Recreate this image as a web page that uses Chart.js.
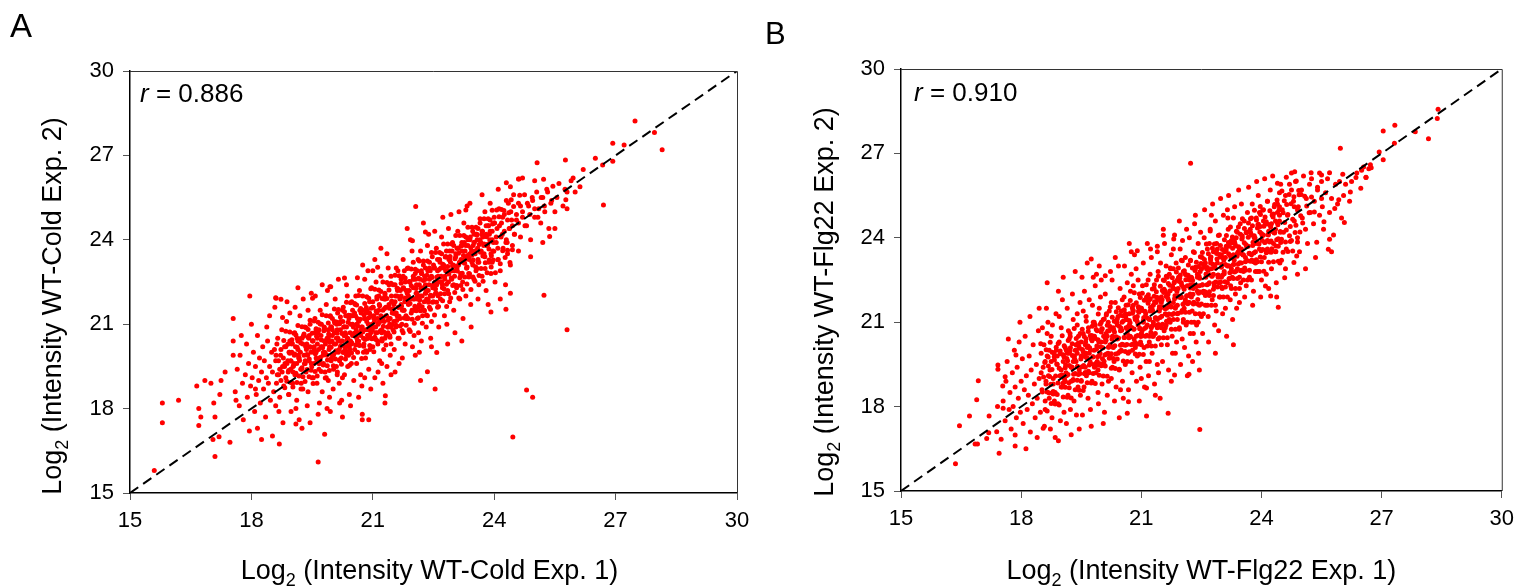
<!DOCTYPE html>
<html>
<head>
<meta charset="utf-8">
<script src="https://cdn.jsdelivr.net/npm/chart.js@4.4.1/dist/chart.umd.min.js"></script>
<style>
html, body { margin: 0; padding: 0; background: #fff; }
#wrap { position: relative; width: 1522px; height: 587px; }
canvas { position: absolute; top: 0; }
</style>
</head>
<body>
<div id="wrap">
  <canvas id="chartA" width="761" height="587" style="left:0"></canvas>
  <canvas id="chartB" width="761" height="587" style="left:761px"></canvas>
</div>
<script>
'use strict';

// axis ticks, shared by both panels
var tickValues = [15, 18, 21, 24, 27, 30];
var identityLine = [15, 30];

// panel A : WT-Cold Exp. 1 (x) vs Exp. 2 (y), outer cloud and outliers
var coldPoints = [
[15.6,15.8],[15.8,18.2],[15.8,17.5],[16.2,18.3],[16.65,18.8],[16.7,18.0],[16.7,17.4],[16.75,17.7],[16.85,19.0],[17.0,18.9],[17.05,16.9],[17.1,16.3],[17.2,17.0],[17.07,18.2],[17.1,17.7],[17.22,18.5],[17.25,19.0],[17.35,19.3],[17.47,16.8],[17.55,19.9],[17.55,20.4],[17.55,21.2],[17.96,22.0],
[17.6,18.6],[17.65,19.4],[17.7,18.1],[17.72,19.9],[17.78,18.9],[17.8,17.6],[17.85,19.2],[17.88,20.3],[17.9,18.4],[17.93,19.6],[17.98,18.8],[18.02,19.1],[18.05,20.0],[18.08,17.9],[18.1,19.5],[18.12,18.5],[18.15,20.6],[18.18,19.0],[18.2,19.8],[18.22,18.2],[18.25,19.3],[18.28,20.2],[18.3,18.7],[18.32,19.7],[18.35,17.7],[18.37,19.1],[18.4,20.4],[18.42,18.9],[18.45,19.5],[18.47,18.3],[18.5,20.0],[17.75,20.6],[18.0,21.0],[18.15,17.3],[18.38,20.9],[18.45,21.3],[17.95,17.2],[18.25,16.9],[17.62,18.3],[18.1,18.7],
[18.52,19.3],[18.55,18.6],[18.57,20.1],[18.6,19.7],[18.62,18.9],[18.65,20.5],[18.67,19.2],[18.7,18.4],[18.72,19.9],[18.75,20.8],[18.77,19.5],[18.8,18.8],[18.82,20.2],[18.85,19.1],[18.87,21.1],[18.9,19.7],[18.92,18.5],[18.95,20.4],[18.97,19.4],[19.0,20.0],[19.02,18.9],[19.05,19.6],[19.07,20.7],[19.1,19.2],[19.12,18.3],[19.15,20.1],[19.17,19.8],[19.2,21.3],[19.22,19.4],[19.25,20.5],[19.27,18.7],[19.3,19.9],[19.32,20.9],[19.35,19.3],[19.37,20.3],[19.4,18.6],[19.42,19.7],[19.45,21.0],[19.47,20.0],[19.5,19.1],[18.58,21.6],[18.68,17.9],[18.78,17.5],[18.88,21.8],[18.98,17.9],[19.08,21.6],[19.18,17.6],[19.28,21.9],[19.38,18.1],[19.48,22.1],[18.63,20.3],[18.73,19.0],[18.83,19.6],[18.93,20.0],[19.03,19.3],[19.13,20.5],[19.23,18.9],[19.33,19.6],[19.43,20.6],[18.6,18.1],[19.1,18.0],[19.25,17.3],[18.95,21.4],[19.4,21.5],[19.15,22.3],[19.45,17.5],
[19.52,20.4],[19.55,19.6],[19.57,21.2],[19.6,20.0],[19.62,18.9],[19.65,20.7],[19.67,19.4],[19.7,21.5],[19.72,20.2],[19.75,18.6],[19.77,19.9],[19.8,20.9],[19.82,19.3],[19.85,21.7],[19.87,20.5],[19.9,19.0],[19.92,20.1],[19.95,21.3],[19.97,19.7],[20.0,20.6],[20.02,18.7],[20.05,20.3],[20.07,21.9],[20.1,19.5],[20.12,20.8],[20.15,20.0],[20.17,18.9],[20.2,21.1],[20.22,19.8],[20.25,20.4],[20.27,21.6],[20.3,19.2],[20.32,20.7],[20.35,19.9],[20.37,22.0],[20.4,20.3],[20.42,18.5],[20.45,21.0],[20.47,19.6],[20.5,20.6],[19.53,19.1],[19.58,22.0],[19.63,20.5],[19.68,18.2],[19.73,21.0],[19.78,19.6],[19.83,20.3],[19.88,22.2],[19.93,18.4],[19.98,20.9],[20.03,19.4],[20.08,20.0],[20.13,21.4],[20.18,19.7],[20.23,18.3],[20.28,20.9],[20.33,21.3],[20.38,19.5],[20.43,20.1],[20.48,21.8],[19.6,20.8],[19.7,19.8],[19.8,20.4],[19.9,20.8],[20.0,19.9],[20.1,20.5],[20.2,20.2],[20.3,20.6],[20.4,19.9],[20.5,21.3],[19.65,17.8],[19.95,17.9],[20.25,17.7],[20.45,18.1],[19.75,22.4],[20.15,22.6],[20.35,22.4],[19.55,20.2],[19.85,19.1],[20.05,21.1],[20.25,19.1],[20.45,20.4],[19.62,19.7],[19.92,20.6],[20.12,19.2],[20.32,20.1],[20.18,18.2],[19.87,18.0],
[20.52,20.9],[20.55,20.1],[20.57,21.7],[20.6,19.6],[20.62,21.2],[20.65,20.4],[20.67,22.2],[20.7,19.2],[20.72,20.8],[20.75,21.5],[20.77,20.0],[20.8,22.6],[20.82,19.8],[20.85,21.1],[20.87,20.5],[20.9,19.4],[20.92,21.8],[20.95,20.7],[20.97,22.3],[21.0,20.2],[21.02,21.3],[21.05,19.1],[21.07,20.9],[21.1,21.9],[21.12,20.4],[21.15,21.5],[21.17,19.7],[21.2,22.7],[21.22,20.7],[21.25,21.2],[21.27,20.1],[21.3,22.1],[21.32,21.6],[21.35,19.5],[21.37,20.9],[21.4,22.4],[21.42,21.0],[21.45,20.3],[21.47,21.8],[21.5,20.8],[20.53,19.0],[20.58,22.0],[20.63,20.7],[20.68,21.5],[20.73,18.8],[20.78,20.3],[20.83,21.4],[20.88,22.9],[20.93,20.1],[20.98,21.0],[21.03,20.5],[21.08,22.5],[21.13,19.3],[21.18,21.1],[21.23,20.4],[21.28,21.9],[21.33,20.6],[21.38,23.0],[21.43,19.9],[21.48,21.4],[20.6,21.0],[20.7,20.6],[20.8,21.2],[20.9,20.8],[21.0,21.6],[21.1,20.7],[21.2,21.3],[21.3,20.5],[21.4,21.2],[21.5,21.5],[20.65,18.4],[20.95,18.7],[21.25,18.9],[21.45,19.2],[20.75,23.1],[21.05,23.3],[21.35,23.5],[20.55,21.4],[20.85,20.0],[21.15,22.0],[21.45,22.7],[20.62,20.3],[20.92,21.4],[21.22,19.6],[21.42,20.6],[21.0,22.9],[20.8,19.1],[21.3,18.2],[20.9,17.6],[21.2,23.7],
[21.52,21.7],[21.55,22.4],[21.57,20.9],[21.6,21.3],[21.62,22.9],[21.65,20.5],[21.67,21.9],[21.7,22.6],[21.72,21.0],[21.75,23.3],[21.77,21.5],[21.8,20.3],[21.82,22.2],[21.85,21.8],[21.87,23.0],[21.9,20.8],[21.92,22.5],[21.95,21.4],[21.97,23.6],[22.0,21.9],[22.02,20.6],[22.05,22.8],[22.07,22.1],[22.1,21.2],[22.12,23.3],[22.15,21.7],[22.17,22.6],[22.2,20.4],[22.22,22.0],[22.25,23.1],[22.27,21.5],[22.3,22.4],[22.32,20.9],[22.35,23.8],[22.37,22.2],[22.4,21.6],[22.42,22.9],[22.45,21.1],[22.47,23.4],[22.5,22.3],[21.53,20.1],[21.58,23.0],[21.63,21.6],[21.68,22.2],[21.73,19.8],[21.78,22.9],[21.83,21.2],[21.88,22.0],[21.93,24.0],[21.98,20.2],[22.03,21.5],[22.08,22.4],[22.13,20.7],[22.18,23.6],[22.23,21.3],[22.28,22.7],[22.33,21.9],[22.38,24.2],[22.43,20.5],[22.48,22.0],[21.6,22.0],[21.7,21.7],[21.8,22.5],[21.9,22.2],[22.0,22.6],[22.1,21.9],[22.2,22.9],[22.3,22.1],[22.4,22.6],[22.5,21.8],[21.65,19.6],[22.05,19.9],[22.45,20.2],[21.85,24.4],[22.25,24.6],[21.75,20.7],[22.15,20.0],[22.35,21.3],[21.55,19.3],[22.0,23.2],
[22.52,23.0],[22.55,22.1],[22.57,23.7],[22.6,21.6],[22.62,22.7],[22.65,23.3],[22.67,21.9],[22.7,24.1],[22.72,22.4],[22.75,23.0],[22.77,21.3],[22.8,22.9],[22.82,23.6],[22.85,22.2],[22.87,24.4],[22.9,21.8],[22.92,23.2],[22.95,22.6],[22.97,23.9],[23.0,21.5],[23.02,22.9],[23.05,23.5],[23.07,22.3],[23.1,24.3],[23.12,23.1],[23.15,21.9],[23.17,22.7],[23.2,23.8],[23.22,22.5],[23.25,24.6],[23.27,23.3],[23.3,22.0],[23.32,23.0],[23.35,24.0],[23.37,22.8],[23.4,23.5],[23.42,21.7],[23.45,23.2],[23.47,24.3],[23.5,22.6],[22.53,24.3],[22.63,20.9],[22.73,24.8],[22.83,21.0],[22.93,24.9],[23.03,20.7],[23.13,25.0],[23.23,21.2],[23.33,25.2],[23.43,20.9],[22.58,22.4],[22.68,23.0],[22.78,22.6],[22.88,23.3],[22.98,22.9],[23.08,23.7],[23.18,23.3],[23.28,23.6],[23.38,23.3],[23.48,23.8],[22.85,20.3],[23.2,20.4],[23.4,25.3],
[23.52,23.6],[23.55,22.9],[23.57,24.2],[23.6,23.3],[23.62,22.4],[23.65,24.6],[23.67,23.9],[23.7,22.7],[23.72,24.1],[23.75,23.5],[23.77,25.0],[23.8,22.2],[23.82,23.8],[23.85,24.5],[23.87,23.2],[23.9,25.3],[23.92,22.8],[23.95,24.0],[23.97,23.6],[24.0,24.8],[24.02,22.5],[24.05,23.9],[24.07,24.4],[24.1,23.3],[24.12,25.1],[24.15,22.9],[24.2,24.2],[24.22,23.7],[24.25,24.9],[24.28,22.4],[24.3,24.0],[24.33,23.5],[24.35,25.3],[24.38,24.4],[24.4,23.1],[24.43,24.7],[24.45,23.8],[24.48,25.6],[24.5,24.2],[23.6,21.9],[23.85,21.7],[24.15,21.9],[24.4,22.1],[23.7,25.6],[24.1,25.8],[23.58,24.0],[23.88,24.2],[24.18,24.6],[24.32,23.9],[23.95,23.2],
[24.55,24.7],[24.6,25.3],[24.65,24.1],[24.7,25.0],[24.75,25.6],[24.8,24.5],[24.85,25.2],[24.9,24.0],[24.95,25.4],[25.0,24.8],[25.05,25.7],[25.1,25.1],[25.15,24.6],[25.2,25.5],[25.25,25.0],[25.3,25.8],[25.35,24.4],[25.4,25.3],[25.45,25.9],[25.5,25.0],[25.55,25.5],[25.6,26.0],[25.7,25.2],[25.8,25.7],[25.9,26.1],[24.6,23.6],[24.9,23.4],[25.2,23.9],[25.0,26.1],[24.7,26.2],[25.5,24.4],[25.75,25.8],
[25.06,26.74],[22.06,25.18],[18.6,21.94],[18.73,21.89],[20.3,22.64],[19.94,22.33],[20.62,22.65],[21.12,23.02],[22.3,24.28],[21.98,23.97],[23.3,25.06],[24.3,26.03],[24.6,26.16],[25.23,22.03],[24.29,21.53],[23.92,21.43],[24.8,18.66],[24.95,18.4],[22.35,19.31],[22.18,19.0],[22.54,18.7],[22.58,19.99],[21.31,18.46],[27.48,28.22],[27.96,27.81],[28.15,27.2],[26.93,27.43],[27.21,27.37],[26.93,26.79],[26.68,26.66],[26.7,25.24],[25.76,26.84],[25.22,26.15],[24.61,26.16],[24.4,25.89],[24.63,25.58],[25.37,24.12],[25.95,26.2],[26.12,25.89],[25.77,25.42],[25.8,25.1],[24.46,16.99],[25.8,20.8],[19.65,16.1],[20.74,17.8],[20.74,17.6],[18.69,16.74],[18.52,17.03],[19.81,17.09],[19.1,17.45],[18.77,21.24],[18.61,21.92],[19.51,21.92],[19.96,22.33],[26.2,26.5],[26.5,26.9],[26.0,25.7]
];

// panel A : dense core along the diagonal
var coldCore = [
[18.61,19.9],[18.64,19.2],[18.67,19.7],[18.7,19.4],[18.73,20.1],[18.76,19.3],[18.79,19.8],[18.82,19.5],[18.85,20.2],[18.88,19.6],[18.91,19.3],[18.94,20.0],[18.97,19.7],[19.0,20.3],[19.03,19.5],[19.06,19.9],[19.09,20.2],[19.12,19.6],[19.15,20.4],[19.18,19.8],[19.21,20.0],[19.24,19.4],[19.27,20.3],[19.3,20.6],[19.33,19.7],[19.36,20.1],[19.39,19.9],[19.42,20.5],[19.45,20.2],[19.48,19.6],[19.51,20.4],[19.54,20.0],[19.57,20.7],[19.6,19.8],[19.63,20.3],[19.66,20.1],[19.69,19.7],[19.72,20.6],[19.75,20.2],[19.78,20.0],[19.81,20.8],[19.84,20.4],[19.87,19.9],[19.9,20.5],[19.93,20.2],[19.96,20.9],[19.99,20.4],[20.02,19.9],[20.05,20.7],[20.08,20.3],[20.11,21.0],[20.14,20.5],[20.17,20.1],[20.2,20.8],[20.23,20.4],[20.26,21.1],[20.29,20.6],[20.32,20.2],[20.35,20.9],[20.38,20.5],[20.41,21.2],[20.44,20.7],[20.47,20.3],[20.5,21.0],[20.53,20.6],[20.56,21.3],[20.59,20.8],[20.62,20.4],[20.65,21.1],[20.68,20.7],[20.71,21.4],[20.74,20.9],[20.77,20.5],[20.8,21.2],[20.83,20.8],[20.86,21.5],[20.89,21.0],[20.92,20.6],[20.95,21.3],[20.98,20.9],[21.01,21.6],[21.04,21.1],[21.07,20.7],[21.1,21.4],[21.13,21.0],[21.16,21.7],[21.19,21.2],[21.22,20.8],[21.25,21.5],[21.28,21.1],[21.31,21.9],[21.34,21.3],[21.37,20.9],[21.4,21.7],[21.43,21.2],[21.46,22.0],[21.49,21.5],[21.52,21.1],[21.55,21.8],[21.58,21.4],[21.61,22.2],[21.64,21.6],[21.67,21.2],[21.7,22.0],[21.73,21.5],[21.76,22.3],[21.79,21.8],[21.82,21.3],[21.85,22.1],[21.88,21.7],[21.91,22.5],[21.94,21.9],[21.97,21.5],[22.0,22.3],[22.03,21.9],[22.06,22.6],[22.09,22.1],[22.12,21.6],[22.15,22.4],[22.18,22.0],[22.21,22.8],[22.24,22.3],[22.27,21.8],[22.3,22.6],[22.33,22.2],[22.36,22.9],[22.39,22.4],[22.42,22.0],[22.45,22.7],[22.48,22.3],[22.51,23.0],[22.54,22.5],[22.57,22.1],[22.6,22.9],[22.63,22.5],[22.66,23.2],[22.69,22.7],[22.72,22.3],[22.75,23.1],[22.78,22.7],[22.81,23.4],[22.84,22.9],[22.87,22.5],[22.9,23.3],[22.93,22.9],[22.96,23.6],[22.99,23.1],[23.02,22.7],[23.05,23.4],[23.08,23.0],[23.11,23.7],[23.14,23.2],[23.17,22.8],[23.2,23.6],[23.23,23.2],[23.26,23.9],[23.29,23.4],[23.32,23.0],[23.35,23.8],[23.38,23.4],[23.41,24.1],[23.44,23.6],[23.47,23.1],[23.5,23.9],[23.53,23.5],[23.56,24.2],[23.59,23.7],[23.62,23.2],[23.65,24.0],[23.68,23.6],[23.71,24.3],[23.74,23.8],[23.77,23.4],[23.8,24.2],[23.83,23.8],[23.86,24.5],[23.89,24.0],[23.92,23.5],[23.95,24.3],[23.98,23.9],[24.01,24.6],[24.05,24.1],[24.09,23.7],[24.13,24.5],[24.17,24.1],[24.21,24.8],[24.25,24.3],[24.29,23.9],[24.33,24.7],[24.37,24.4],[24.41,25.0],[24.45,24.5],[24.5,24.2],[24.55,24.9],[24.6,24.6],[24.65,25.2],[24.7,24.8],[24.76,24.5],[24.82,25.3],[24.88,24.9],[24.94,25.5],[25.0,25.1],[25.08,24.8],[25.16,25.5],[25.24,25.2],[25.32,25.7],[25.42,25.4],
[18.92,19.35],[18.95,19.97],[18.98,19.69],[19.01,20.31],[19.04,19.52],[19.07,19.94],[19.1,19.26],[19.13,20.18],[19.16,19.9],[19.19,19.71],[19.22,20.33],[19.25,19.45],[19.28,20.57],[19.31,19.59],[19.34,20.21],[19.37,19.92],[19.4,20.54],[19.43,19.76],[19.46,20.18],[19.49,19.49],[19.52,20.41],[19.55,20.13],[19.58,19.95],[19.61,20.57],[19.64,19.68],[19.67,20.8],[19.7,19.82],[19.73,20.44],[19.76,20.16],[19.79,20.77],[19.82,19.99],[19.85,20.41],[19.88,19.73],[19.91,20.65],[19.94,20.36],[19.97,20.18],[20.0,20.8],[20.03,19.92],[20.06,21.04],[20.09,20.06],[20.12,20.68],[20.15,20.4],[20.18,21.02],[20.21,20.24],[20.24,20.67],[20.27,19.99],[20.3,20.91],[20.33,20.63],[20.36,20.45],[20.39,21.07],[20.42,20.19],[20.45,21.31],[20.48,20.34],[20.51,20.96],[20.54,20.68],[20.57,21.3],[20.6,20.52],[20.63,20.94],[20.66,20.26],[20.69,21.18],[20.72,20.9],[20.75,20.72],[20.78,21.34],[20.81,20.46],[20.84,21.59],[20.87,20.61],[20.9,21.23],[20.93,20.95],[20.96,21.57],[20.99,20.79],[21.02,21.22],[21.05,20.54],[21.08,21.47],[21.11,21.2],[21.14,21.03],[21.17,21.66],[21.2,20.78],[21.23,21.91],[21.26,20.93],[21.29,21.56],[21.32,21.29],[21.35,21.91],[21.38,21.14],[21.41,21.57],[21.44,20.9],[21.47,21.82],[21.5,21.55],[21.53,21.38],[21.56,22.0],[21.59,21.13],[21.62,22.26],[21.65,21.28],[21.68,21.91],[21.71,21.64],[21.74,22.27],[21.77,21.5],[21.8,21.93],[21.83,21.26],[21.86,22.19],[21.89,21.92],[21.92,21.74],[21.95,22.37],[21.98,21.5],[22.01,22.61],[22.04,21.64],[22.07,22.27],[22.1,22.0],[22.13,22.63],[22.16,21.86],[22.19,22.29],[22.22,21.62],[22.25,22.55],[22.28,22.28],[22.31,22.11],[22.34,22.74],[22.37,21.87],[22.4,23.0],[22.43,22.03],[22.46,22.66],[22.49,22.39],[22.52,23.02],[22.55,22.25],[22.58,22.68],[22.61,22.01],[22.64,22.94],[22.67,22.67],[22.7,22.5],[22.73,23.13],[22.76,22.26],[22.79,23.39],[22.82,22.42],[22.85,23.05],[22.88,22.78],[22.91,23.41],[22.94,22.64],[22.97,23.07],[23.0,22.4],[23.03,23.33],[23.06,23.06],[23.09,22.89],[23.12,23.52],[23.15,22.65],[23.18,23.78],[23.21,22.81],[23.24,23.44],[23.27,23.17],[23.3,23.8],[23.33,23.03],[23.36,23.46],[23.39,22.79],[23.42,23.72],[23.45,23.45],[23.48,23.28],[23.51,23.91],[23.54,23.04],[23.57,24.17],[23.6,23.2],[23.63,23.83],[23.66,23.56],[23.69,24.19],[23.72,23.42],[23.75,23.85],[23.78,23.18],[23.81,24.11],[23.84,23.84],[23.87,23.67],[23.9,24.3],[23.93,23.43],[23.96,24.56],[23.99,23.59]
];

// panel A : middle band round the core
var coldRing = [
[18.8,20.42],[18.825,18.74],[18.85,20.75],[18.875,18.97],[18.9,20.29],[18.925,18.5],[18.95,20.72],[18.975,18.93],[19.0,20.45],[19.025,18.77],[19.05,20.68],[19.075,19.2],[19.1,20.62],[19.125,18.93],[19.15,20.95],[19.175,19.16],[19.2,20.48],[19.225,18.7],[19.25,20.91],[19.275,19.13],[19.3,20.65],[19.325,18.96],[19.35,20.88],[19.375,19.39],[19.4,20.81],[19.425,19.13],[19.45,21.14],[19.475,19.36],[19.5,20.68],[19.525,18.89],[19.55,21.11],[19.575,19.32],[19.6,20.84],[19.625,19.16],[19.65,21.07],[19.675,19.59],[19.7,21.01],[19.725,19.32],[19.75,21.34],[19.775,19.55],[19.8,20.87],[19.825,19.09],[19.85,21.3],[19.875,19.52],[19.9,21.04],[19.925,19.35],[19.95,21.27],[19.975,19.78],[20.0,21.2],[20.025,19.52],[20.05,21.54],[20.075,19.76],[20.1,21.08],[20.125,19.3],[20.15,21.52],[20.175,19.74],[20.2,21.26],[20.225,19.58],[20.25,21.5],[20.275,20.02],[20.3,21.44],[20.325,19.76],[20.35,21.78],[20.375,20.0],[20.4,21.32],[20.425,19.54],[20.45,21.76],[20.475,19.98],[20.5,21.5],[20.525,19.82],[20.55,21.74],[20.575,20.26],[20.6,21.68],[20.625,20.0],[20.65,22.02],[20.675,20.24],[20.7,21.56],[20.725,19.78],[20.75,22.0],[20.775,20.22],[20.8,21.74],[20.825,20.06],[20.85,21.98],[20.875,20.5],[20.9,21.92],[20.925,20.24],[20.95,22.26],[20.975,20.48],[21.0,21.8],[21.025,20.02],[21.05,22.24],[21.075,20.46],[21.1,21.98],[21.125,20.3],[21.15,22.22],[21.175,20.74],[21.2,22.16],[21.225,20.48],[21.25,22.5],[21.275,20.72],[21.3,22.04],[21.325,20.26],[21.35,22.48],[21.375,20.7],[21.4,22.22],[21.425,20.54],[21.45,22.46],[21.475,20.98],[21.5,22.4],[21.525,20.72],[21.55,22.74],[21.575,20.96],[21.6,22.28],[21.625,20.5],[21.65,22.72],[21.675,20.94],[21.7,22.46],[21.725,20.78],[21.75,22.7],[21.775,21.22],[21.8,22.64],[21.825,20.96],[21.85,22.98],[21.875,21.2],[21.9,22.52],[21.925,20.74],[21.95,22.96],[21.975,21.18],[22.0,22.7],[22.025,21.03],[22.05,22.95],[22.075,21.48],[22.1,22.9],[22.125,21.23],[22.15,23.25],[22.175,21.48],[22.2,22.8],[22.225,21.03],[22.25,23.25],[22.275,21.48],[22.3,23.0],[22.325,21.33],[22.35,23.25],[22.375,21.78],[22.4,23.2],[22.425,21.53],[22.45,23.55],[22.475,21.78],[22.5,23.1],[22.525,21.33],[22.55,23.55],[22.575,21.78],[22.6,23.3],[22.625,21.63],[22.65,23.55],[22.675,22.08],[22.7,23.5],[22.725,21.83],[22.75,23.85],[22.775,22.08],[22.8,23.4],[22.825,21.63],[22.85,23.85],[22.875,22.08],[22.9,23.6],[22.925,21.93],[22.95,23.85],[22.975,22.38],[23.0,23.8],[23.025,22.13],[23.05,24.15],[23.075,22.38],[23.1,23.7],[23.125,21.93],[23.15,24.15],[23.175,22.38],[23.2,23.9],[23.225,22.23],[23.25,24.15],[23.275,22.68],[23.3,24.1],[23.325,22.43],[23.35,24.45],[23.375,22.68],[23.4,24.0],[23.425,22.23],[23.45,24.45],[23.475,22.68],[23.5,24.2],[23.525,22.53],[23.55,24.45],[23.575,22.98],[23.6,24.4],[23.625,22.73],[23.65,24.75],[23.675,22.98],[23.7,24.3],[23.725,22.53],[23.75,24.75],[23.775,22.98],[23.8,24.5],[23.825,22.83],[23.85,24.75],[23.875,23.28],[23.9,24.7],[23.925,23.03],[23.95,25.05],[23.975,23.28],[24.0,24.6],[24.03,22.83],[24.06,25.06],[24.09,23.29],[24.12,24.82],[24.15,23.15],[24.18,25.08],[24.21,23.61],[24.24,25.04],[24.27,23.37],[24.3,25.4],[24.33,23.63],[24.36,24.96],[24.39,23.19],[24.42,25.42],[24.45,23.65],[24.48,25.18]
];

// panel B : WT-Flg22 Exp. 1 (x) vs Exp. 2 (y), outer cloud and outliers
var flgPoints = [
[16.36,15.97],[17.45,16.34],[16.93,18.92],[16.89,18.24],[16.71,17.67],[16.46,17.32],[17.2,17.67],[16.91,16.67],[16.85,16.67],[17.14,16.87],[17.19,17.07],[17.39,17.11],[17.5,16.84],[17.41,18.0],[17.55,17.94],[17.42,19.48],[17.42,19.33],[17.6,19.06],[17.54,18.73],[17.87,19.83],[17.85,16.99],[18.93,16.79],[18.55,17.23],[20.65,17.76],[21.13,17.67],[21.67,17.76],[22.46,17.19],[22.19,19.15],[21.83,19.12],[21.13,18.66],[20.68,18.17],[18.65,20.6],[18.49,20.23],
[17.55,18.2],[17.6,17.5],[17.62,18.9],[17.65,19.6],[17.7,17.9],[17.72,18.5],[17.75,17.2],[17.78,19.2],[17.8,18.0],[17.83,20.0],[17.85,18.7],[17.88,17.6],[17.9,19.4],[17.93,18.3],[17.95,20.3],[17.98,17.8],[18.0,18.9],[18.03,19.7],[18.05,17.4],[18.08,18.6],[18.1,20.5],[18.13,19.1],[18.15,17.9],[18.18,18.4],[18.2,19.8],[18.23,17.1],[18.25,19.3],[18.28,18.1],[18.3,20.2],[18.33,18.8],[18.35,17.6],[18.38,19.5],[18.4,18.3],[18.43,20.7],[18.45,19.0],[18.48,17.8],[18.5,19.9],[17.68,20.4],[17.97,21.0],[18.22,21.2],[18.4,16.9],[17.85,16.6],[18.12,16.5],[18.45,21.5],
[18.52,18.6],[18.55,19.4],[18.57,20.2],[18.6,17.9],[18.62,18.9],[18.65,19.8],[18.67,21.0],[18.7,18.3],[18.72,19.3],[18.75,20.5],[18.77,17.6],[18.8,19.0],[18.82,19.9],[18.85,18.5],[18.87,21.3],[18.9,19.5],[18.92,18.1],[18.95,20.3],[18.97,19.1],[19.0,20.8],[19.02,18.7],[19.05,19.6],[19.07,17.8],[19.1,20.1],[19.12,19.2],[19.15,21.5],[19.17,18.4],[19.2,19.9],[19.22,20.6],[19.25,18.9],[19.27,19.4],[19.3,21.1],[19.32,18.2],[19.35,20.0],[19.37,19.6],[19.4,20.9],[19.42,18.7],[19.45,19.3],[19.47,21.7],[19.5,20.3],[18.53,20.8],[18.58,17.3],[18.63,21.5],[18.68,19.1],[18.73,17.2],[18.78,20.9],[18.83,18.2],[18.88,20.0],[18.93,22.1],[18.98,17.5],[19.03,21.8],[19.08,19.0],[19.13,17.4],[19.18,20.7],[19.23,17.9],[19.28,22.0],[19.33,19.8],[19.38,17.7],[19.43,20.5],[19.48,18.4],[18.6,19.6],[18.7,20.0],[18.8,18.8],[18.9,19.8],[19.0,19.3],[19.1,18.9],[19.2,20.4],[19.3,19.6],[19.4,19.9],[19.5,18.9],[18.65,22.4],[19.05,22.6],[19.35,22.8],[18.85,16.9],[19.25,17.0],[19.45,17.2],[18.95,21.2],[19.15,19.9],[18.75,19.6],[19.4,21.3],
[19.52,19.8],[19.55,20.6],[19.57,18.7],[19.6,19.4],[19.62,21.2],[19.65,20.1],[19.67,18.3],[19.7,21.8],[19.72,19.6],[19.75,20.4],[19.77,18.9],[19.8,21.0],[19.82,20.0],[19.85,22.3],[19.87,19.2],[19.9,20.7],[19.92,18.5],[19.95,21.5],[19.97,19.9],[20.0,20.3],[20.02,18.8],[20.05,21.1],[20.07,19.5],[20.1,22.0],[20.12,20.6],[20.15,18.4],[20.17,19.9],[20.2,21.4],[20.22,20.2],[20.25,19.0],[20.27,22.5],[20.3,20.8],[20.32,19.6],[20.35,21.7],[20.37,18.7],[20.4,20.4],[20.42,21.2],[20.45,19.3],[20.47,22.2],[20.5,20.0],[19.53,17.7],[19.58,22.1],[19.63,19.1],[19.68,20.8],[19.73,17.9],[19.78,21.6],[19.83,19.4],[19.88,22.7],[19.93,18.1],[19.98,21.9],[20.03,19.7],[20.08,17.8],[20.13,21.3],[20.18,18.9],[20.23,22.8],[20.28,19.4],[20.33,18.2],[20.38,21.0],[20.43,23.0],[20.48,18.6],[19.6,20.2],[19.7,19.9],[19.8,20.5],[19.9,19.6],[20.0,21.0],[20.1,20.3],[20.2,20.7],[20.3,20.1],[20.4,20.9],[20.5,21.4],[19.65,23.1],[19.95,23.0],[20.35,23.3],[19.75,17.3],[20.05,17.4],[20.45,17.6],[19.55,21.4],[19.85,20.9],[20.15,20.5],[20.25,21.7],[19.62,19.9],[19.92,19.3],[20.22,19.8],[20.42,19.9],[20.0,22.5],[19.8,22.6],[20.48,20.7],[19.75,23.25],[19.52,22.6],[20.1,22.65],
[20.52,21.0],[20.55,20.2],[20.57,21.9],[20.6,19.5],[20.62,20.8],[20.65,22.4],[20.67,19.9],[20.7,21.3],[20.72,20.5],[20.75,22.7],[20.77,19.2],[20.8,21.6],[20.82,20.4],[20.85,21.1],[20.87,22.9],[20.9,19.8],[20.92,20.9],[20.95,22.0],[20.97,19.4],[21.0,21.5],[21.02,20.7],[21.05,23.1],[21.07,20.1],[21.1,21.8],[21.12,19.6],[21.15,20.9],[21.17,22.5],[21.2,20.3],[21.22,21.4],[21.25,23.3],[21.27,19.9],[21.3,21.0],[21.32,22.2],[21.35,20.6],[21.37,21.7],[21.4,19.5],[21.42,22.8],[21.45,20.9],[21.47,21.5],[21.5,20.2],[20.53,18.9],[20.58,23.0],[20.63,21.1],[20.68,18.6],[20.73,22.1],[20.78,20.0],[20.83,23.4],[20.88,18.9],[20.93,21.4],[20.98,20.3],[21.03,22.3],[21.08,18.7],[21.13,21.9],[21.18,19.1],[21.23,23.6],[21.28,20.5],[21.33,18.8],[21.38,22.5],[21.43,19.2],[21.48,23.1],[20.6,21.3],[20.7,20.9],[20.8,21.4],[20.9,21.2],[21.0,20.6],[21.1,21.2],[21.2,21.8],[21.3,21.6],[21.4,21.1],[21.5,21.9],[20.65,20.6],[20.85,20.1],[21.05,21.0],[21.25,20.8],[21.45,21.4],[20.75,23.5],[21.15,23.8],[21.4,23.7],[20.55,18.3],[20.95,18.2],[21.35,18.4],[20.62,21.6],[20.92,22.5],[21.22,22.7],[21.42,20.4],[21.0,19.0],[20.8,22.3],[21.2,19.6],[21.47,18.3],[20.7,23.8],[20.9,23.54],[21.4,23.5],
[21.52,21.8],[21.55,22.5],[21.57,20.7],[21.6,21.3],[21.62,23.0],[21.65,20.2],[21.67,22.0],[21.7,22.7],[21.72,21.0],[21.75,23.4],[21.77,20.5],[21.8,21.7],[21.82,22.4],[21.85,19.9],[21.87,23.1],[21.9,21.3],[21.92,22.2],[21.95,20.8],[21.97,23.6],[22.0,21.9],[22.02,20.4],[22.05,22.8],[22.07,21.5],[22.1,23.3],[22.12,20.9],[22.15,22.3],[22.17,21.7],[22.2,24.0],[22.22,20.6],[22.25,22.6],[22.27,21.4],[22.3,23.5],[22.32,21.0],[22.35,22.9],[22.37,20.3],[22.4,22.1],[22.42,23.8],[22.45,21.6],[22.47,22.8],[22.5,21.2],[21.53,19.6],[21.58,23.8],[21.63,21.5],[21.68,19.3],[21.73,22.9],[21.78,19.9],[21.83,24.1],[21.88,20.3],[21.93,22.6],[21.98,19.5],[22.03,23.9],[22.08,20.1],[22.13,24.3],[22.18,19.8],[22.23,23.2],[22.28,19.6],[22.33,24.5],[22.38,20.9],[22.43,19.9],[22.48,24.2],[21.6,22.1],[21.7,21.6],[21.8,22.9],[21.9,22.5],[22.0,22.4],[22.1,21.8],[22.2,22.5],[22.3,22.2],[22.4,22.6],[22.5,22.9],[21.65,22.6],[21.85,21.5],[22.05,21.1],[22.25,21.9],[22.45,22.3],[21.55,24.3],[21.95,24.6],[22.35,24.8],[21.75,18.9],[22.15,19.1],[22.45,19.3],[21.62,20.9],[21.92,21.9],[22.22,22.0],[22.42,21.0],[22.0,23.2],[21.8,23.6],[22.3,20.6],[21.55,24.09],[21.81,23.96],
[22.52,23.3],[22.55,22.1],[22.57,24.0],[22.6,21.6],[22.62,22.7],[22.65,23.6],[22.67,21.2],[22.7,22.4],[22.72,24.3],[22.75,22.9],[22.77,21.8],[22.8,23.5],[22.82,22.3],[22.85,24.6],[22.87,21.4],[22.9,23.1],[22.92,22.6],[22.95,24.1],[22.97,21.9],[23.0,23.4],[23.02,22.2],[23.05,24.8],[23.07,22.8],[23.1,21.5],[23.12,23.7],[23.15,22.4],[23.17,24.3],[23.2,23.0],[23.22,21.8],[23.25,23.9],[23.27,22.6],[23.3,24.7],[23.32,23.2],[23.35,22.0],[23.37,24.0],[23.4,22.9],[23.42,23.5],[23.45,21.7],[23.47,24.5],[23.5,23.1],[22.53,20.6],[22.58,25.0],[22.63,22.9],[22.68,20.3],[22.73,23.1],[22.78,25.2],[22.83,20.9],[22.88,23.8],[22.93,20.7],[22.98,25.4],[23.03,21.3],[23.08,23.5],[23.13,20.5],[23.18,25.5],[23.23,22.3],[23.28,21.1],[23.33,25.1],[23.38,21.5],[23.43,25.7],[23.48,22.4],[22.6,23.1],[22.7,23.8],[22.8,22.7],[22.9,23.6],[23.0,22.6],[23.1,23.3],[23.2,23.7],[23.3,23.4],[23.4,24.2],[23.5,23.6],[22.65,22.0],[22.95,22.4],[23.25,22.9],[23.45,22.6],[22.75,24.8],[23.15,25.0],[23.5,25.2],[22.85,19.9],[23.3,20.2],
[23.52,24.0],[23.55,22.8],[23.57,24.6],[23.6,23.3],[23.62,22.3],[23.65,24.9],[23.67,23.7],[23.7,22.6],[23.72,24.3],[23.75,23.4],[23.77,25.2],[23.8,22.1],[23.82,24.0],[23.85,23.1],[23.87,24.7],[23.9,22.8],[23.92,25.5],[23.95,23.6],[23.97,24.4],[24.0,22.5],[24.02,23.9],[24.05,25.0],[24.07,23.3],[24.1,24.5],[24.12,22.7],[24.15,25.3],[24.17,24.1],[24.2,23.5],[24.22,25.7],[24.25,22.9],[24.27,24.8],[24.3,23.8],[24.32,25.1],[24.35,24.3],[24.37,22.4],[24.4,24.9],[24.42,23.7],[24.45,25.6],[24.47,24.2],[24.5,23.2],[23.58,21.9],[23.68,25.8],[23.78,21.6],[23.88,26.0],[23.98,21.9],[24.08,26.1],[24.18,22.2],[24.28,26.2],[24.38,21.9],[24.48,25.9],[23.62,24.2],[23.75,24.7],[23.95,24.9],[24.05,24.1],[24.25,24.5],[24.4,25.2],[23.85,23.8],[24.15,23.9],[24.35,23.5],[24.45,24.6],
[24.52,25.0],[24.55,24.2],[24.6,25.5],[24.62,23.6],[24.65,24.8],[24.7,25.9],[24.72,24.4],[24.75,23.9],[24.8,25.3],[24.82,24.6],[24.85,26.0],[24.9,24.0],[24.92,25.1],[24.95,23.5],[25.0,25.7],[25.02,24.7],[25.05,26.2],[25.1,24.3],[25.12,25.4],[25.15,23.8],[25.2,25.9],[25.22,24.9],[25.25,26.1],[25.3,24.5],[25.32,25.3],[25.35,23.3],[25.4,25.8],[25.45,24.8],[25.5,26.0],[25.52,25.1],[25.55,24.3],[25.6,25.6],[25.65,26.1],[25.7,24.9],[25.75,25.4],[25.8,24.1],[25.85,25.9],[25.9,25.2],[25.95,26.0],[26.0,24.7],[26.05,25.5],[26.1,25.9],[26.2,25.3],[26.25,26.0],[24.6,22.9],[24.9,22.7],[25.1,22.9],[24.75,26.3],[25.45,26.3],[25.75,23.5],
[28.41,28.57],[28.39,28.24],[28.17,27.52],[27.33,28.0],[27.04,27.8],[27.84,27.77],[27.32,27.36],[26.94,27.05],[27.04,26.77],[26.74,26.49],[25.97,27.18],[22.23,26.65],[26.48,25.76],[26.22,25.63],[26.61,26.14],[26.36,26.14],[26.07,24.54],[25.83,25.04],[25.93,25.35],[25.7,23.95],[25.67,23.59],[25.38,23.84],[25.56,24.57],[24.58,22.58],[24.23,21.93],[24.42,21.53],[24.1,22.29],[24.81,23.12],[24.88,23.35],[24.46,23.1],[24.83,26.35],[24.62,26.15],[25.24,26.31],[25.7,26.31],[23.97,25.11],[24.4,25.94],[23.16,24.7],[22.72,24.24],[26.72,26.6],[26.68,26.45],[26.55,26.52],[26.5,26.4],[26.38,26.3],[25.5,26.23],[26.03,26.26],[26.61,26.15]
];

// panel B : dense core along the diagonal
var flgCore = [
[18.5,19.2],[18.53,18.52],[18.56,19.05],[18.59,19.57],[18.62,18.8],[18.65,18.52],[18.68,19.44],[18.71,19.07],[18.74,18.79],[18.77,19.32],[18.8,18.54],[18.83,19.66],[18.86,19.09],[18.89,19.51],[18.92,18.84],[18.95,19.36],[18.98,19.88],[19.01,19.11],[19.04,18.83],[19.07,19.76],[19.1,19.38],[19.13,19.1],[19.16,19.63],[19.19,18.85],[19.22,19.98],[19.25,19.4],[19.28,19.82],[19.31,19.15],[19.34,19.67],[19.37,20.2],[19.4,19.42],[19.43,19.14],[19.46,20.07],[19.49,19.69],[19.52,19.42],[19.55,19.95],[19.58,19.17],[19.61,20.3],[19.64,19.73],[19.67,20.15],[19.7,19.48],[19.73,20.01],[19.76,20.53],[19.79,19.76],[19.82,19.49],[19.85,20.42],[19.88,20.04],[19.91,19.77],[19.94,20.3],[19.97,19.52],[20.0,20.65],[20.03,20.08],[20.06,20.5],[20.09,19.83],[20.12,20.36],[20.15,20.89],[20.18,20.11],[20.21,19.84],[20.24,20.77],[20.27,20.39],[20.3,20.12],[20.33,20.65],[20.36,19.87],[20.39,21.0],[20.42,20.43],[20.45,20.86],[20.48,20.18],[20.51,20.71],[20.54,21.23],[20.57,20.46],[20.6,20.18],[20.63,21.1],[20.66,20.73],[20.69,20.45],[20.72,20.98],[20.75,20.2],[20.78,21.32],[20.81,20.75],[20.84,21.17],[20.87,20.5],[20.9,21.02],[20.93,21.54],[20.96,20.77],[20.99,20.49],[21.02,21.42],[21.05,21.05],[21.08,20.78],[21.11,21.31],[21.14,20.54],[21.17,21.67],[21.2,21.1],[21.23,21.53],[21.26,20.86],[21.29,21.39],[21.32,21.92],[21.35,21.15],[21.38,20.88],[21.41,21.81],[21.44,21.44],[21.47,21.17],[21.5,21.7],[21.53,20.93],[21.56,22.06],[21.59,21.49],[21.62,21.92],[21.65,21.25],[21.68,21.78],[21.71,22.31],[21.74,21.54],[21.77,21.27],[21.8,22.2],[21.83,21.83],[21.86,21.56],[21.89,22.09],[21.92,21.32],[21.95,22.45],[21.98,21.88],[22.01,22.31],[22.04,21.64],[22.07,22.17],[22.1,22.7],[22.13,21.93],[22.16,21.66],[22.19,22.59],[22.22,22.22],[22.25,21.95],[22.28,22.48],[22.31,21.71],[22.34,22.84],[22.37,22.27],[22.4,22.7],[22.43,22.03],[22.46,22.56],[22.49,23.09],[22.52,22.32],[22.55,22.05],[22.58,22.97],[22.61,22.6],[22.64,22.33],[22.67,22.85],[22.7,22.08],[22.73,23.21],[22.76,22.63],[22.79,23.06],[22.82,22.39],[22.85,22.92],[22.88,23.44],[22.91,22.67],[22.94,22.4],[22.97,23.32],[23.0,22.95],[23.03,22.68],[23.06,23.21],[23.09,22.44],[23.12,23.57],[23.15,23.0],[23.18,23.43],[23.21,22.76],[23.24,23.29],[23.27,23.82],[23.3,23.05],[23.33,22.78],[23.36,23.71],[23.39,23.34],[23.42,23.07],[23.45,23.6],[23.48,22.83],[23.51,23.96],[23.54,23.39],[23.57,23.82],[23.6,23.15],[23.63,23.68],[23.66,24.21],[23.69,23.44],[23.72,23.17],[23.75,24.1],[23.78,23.73],[23.81,23.46],[23.84,23.99],[23.87,23.22],[23.9,24.35],[23.93,23.78],[23.96,24.21],[23.99,23.54],[24.02,24.07],[24.05,24.6],[24.08,23.83],[24.11,23.56],[24.14,24.49],[24.17,24.12],[24.2,23.85],[24.23,24.38],[24.26,23.61],[24.29,24.74],[24.32,24.17],[24.35,24.6],[24.38,23.93],[24.41,24.46],[24.44,24.99],[24.47,24.22],[24.5,23.95],[24.54,24.89],[24.58,24.54],[24.62,24.28],[24.66,24.83],[24.7,24.07],[24.74,25.21],[24.78,24.66],[24.82,25.1],[24.86,24.45],[24.9,24.99],[24.94,25.53],[24.98,24.78],[25.03,24.53],[25.08,25.48],[25.13,25.13],[25.19,24.89],[25.25,25.45],[25.32,24.92],[25.4,25.7],[25.5,25.4],
[19.02,19.12],[19.05,19.84],[19.08,18.87],[19.11,19.49],[19.14,19.71],[19.17,19.14],[19.2,19.46],[19.23,20.09],[19.26,19.41],[19.29,18.93],[19.32,19.76],[19.35,19.18],[19.38,20.01],[19.41,19.43],[19.44,20.15],[19.47,19.18],[19.5,19.8],[19.53,20.03],[19.56,19.46],[19.59,19.78],[19.62,20.41],[19.65,19.74],[19.68,19.26],[19.71,20.09],[19.74,19.52],[19.77,20.34],[19.8,19.77],[19.83,20.5],[19.86,19.53],[19.89,20.15],[19.92,20.38],[19.95,19.81],[19.98,20.13],[20.01,20.76],[20.04,20.09],[20.07,19.61],[20.1,20.44],[20.13,19.87],[20.16,20.69],[20.19,20.12],[20.22,20.85],[20.25,19.88],[20.28,20.5],[20.31,20.73],[20.34,20.16],[20.37,20.48],[20.4,21.11],[20.43,20.44],[20.46,19.96],[20.49,20.79],[20.52,20.22],[20.55,21.04],[20.58,20.46],[20.61,21.19],[20.64,20.21],[20.67,20.84],[20.7,21.06],[20.73,20.48],[20.76,20.81],[20.79,21.43],[20.82,20.76],[20.85,20.28],[20.88,21.1],[20.91,20.53],[20.94,21.35],[20.97,20.78],[21.0,21.5],[21.03,20.53],[21.06,21.16],[21.09,21.39],[21.12,20.82],[21.15,21.15],[21.18,21.78],[21.21,21.11],[21.24,20.64],[21.27,21.47],[21.3,20.9],[21.33,21.73],[21.36,21.16],[21.39,21.89],[21.42,20.92],[21.45,21.55],[21.48,21.78],[21.51,21.21],[21.54,21.54],[21.57,22.17],[21.6,21.5],[21.63,21.03],[21.66,21.86],[21.69,21.29],[21.72,22.12],[21.75,21.55],[21.78,22.28],[21.81,21.31],[21.84,21.94],[21.87,22.17],[21.9,21.6],[21.93,21.93],[21.96,22.56],[21.99,21.89],[22.02,21.42],[22.05,22.25],[22.08,21.68],[22.11,22.51],[22.14,21.94],[22.17,22.67],[22.2,21.7],[22.23,22.33],[22.26,22.56],[22.29,21.99],[22.32,22.32],[22.35,22.95],[22.38,22.28],[22.41,21.81],[22.44,22.64],[22.47,22.07],[22.5,22.9],[22.53,22.33],[22.56,23.05],[22.59,22.08],[22.62,22.71],[22.65,22.94],[22.68,22.36],[22.71,22.69],[22.74,23.32],[22.77,22.64],[22.8,22.17],[22.83,23.0],[22.86,22.43],[22.89,23.25],[22.92,22.68],[22.95,23.41],[22.98,22.43],[23.01,23.06],[23.04,23.29],[23.07,22.72],[23.1,23.05],[23.13,23.68],[23.16,23.01],[23.19,22.54],[23.22,23.37],[23.25,22.8],[23.28,23.63],[23.31,23.06],[23.34,23.79],[23.37,22.82],[23.4,23.45],[23.43,23.68],[23.46,23.11],[23.49,23.44],[23.52,24.07],[23.55,23.4],[23.58,22.93],[23.61,23.76],[23.64,23.19],[23.67,24.02],[23.7,23.45],[23.73,24.18],[23.76,23.21],[23.79,23.84],[23.82,24.07],[23.85,23.5],[23.88,23.83],[23.91,24.46],[23.94,23.79],[23.97,23.32],[24.0,24.15],[24.03,23.58],[24.06,24.41],[24.09,23.84],[24.12,24.57],[24.15,23.6],[24.18,24.23],[24.21,24.46],[24.24,23.89],[24.27,24.22],[24.3,24.85],[24.33,24.18],[24.36,23.71],[24.39,24.54],[24.42,23.97],[24.45,24.8]
];

// panel B : middle band round the core
var flgRing = [
[18.6,18.2],[18.625,20.02],[18.65,17.84],[18.675,19.76],[18.7,18.48],[18.725,20.29],[18.75,18.11],[18.775,19.93],[18.8,18.45],[18.825,19.77],[18.85,18.09],[18.875,20.11],[18.9,18.43],[18.925,20.24],[18.95,18.06],[18.975,19.98],[19.0,18.7],[19.025,20.52],[19.05,18.34],[19.075,20.16],[19.1,18.69],[19.125,20.01],[19.15,18.33],[19.175,20.35],[19.2,18.67],[19.225,20.49],[19.25,18.31],[19.275,20.23],[19.3,18.96],[19.325,20.78],[19.35,18.6],[19.375,20.42],[19.4,18.94],[19.425,20.26],[19.45,18.58],[19.475,20.6],[19.5,18.93],[19.525,20.75],[19.55,18.57],[19.575,20.49],[19.6,19.21],[19.625,21.03],[19.65,18.85],[19.675,20.67],[19.7,19.2],[19.725,20.52],[19.75,18.84],[19.775,20.86],[19.8,19.18],[19.825,21.0],[19.85,18.82],[19.875,20.74],[19.9,19.47],[19.925,21.29],[19.95,19.11],[19.975,20.93],[20.0,19.45],[20.025,20.77],[20.05,19.09],[20.075,21.11],[20.1,19.44],[20.125,21.26],[20.15,19.08],[20.175,21.0],[20.2,19.72],[20.225,21.54],[20.25,19.36],[20.275,21.18],[20.3,19.71],[20.325,21.03],[20.35,19.35],[20.375,21.37],[20.4,19.69],[20.425,21.51],[20.45,19.33],[20.475,21.25],[20.5,19.98],[20.525,21.8],[20.55,19.62],[20.575,21.44],[20.6,19.96],[20.625,21.28],[20.65,19.6],[20.675,21.62],[20.7,19.95],[20.725,21.77],[20.75,19.59],[20.775,21.51],[20.8,20.23],[20.825,22.05],[20.85,19.87],[20.875,21.69],[20.9,20.22],[20.925,21.54],[20.95,19.86],[20.975,21.88],[21.0,20.2],[21.025,22.03],[21.05,19.85],[21.075,21.78],[21.1,20.5],[21.125,22.33],[21.15,20.15],[21.175,21.98],[21.2,20.5],[21.225,21.83],[21.25,20.15],[21.275,22.18],[21.3,20.5],[21.325,22.33],[21.35,20.15],[21.375,22.08],[21.4,20.8],[21.425,22.63],[21.45,20.45],[21.475,22.28],[21.5,20.8],[21.525,22.13],[21.55,20.45],[21.575,22.48],[21.6,20.8],[21.625,22.63],[21.65,20.45],[21.675,22.38],[21.7,21.1],[21.725,22.93],[21.75,20.75],[21.775,22.58],[21.8,21.1],[21.825,22.43],[21.85,20.75],[21.875,22.78],[21.9,21.1],[21.925,22.93],[21.95,20.75],[21.975,22.68],[22.0,21.35],[22.025,23.18],[22.05,21.0],[22.075,22.83],[22.1,21.35],[22.125,22.68],[22.15,21.0],[22.175,23.03],[22.2,21.35],[22.225,23.18],[22.25,21.0],[22.275,22.93],[22.3,21.65],[22.325,23.48],[22.35,21.3],[22.375,23.13],[22.4,21.65],[22.425,22.98],[22.45,21.3],[22.475,23.33],[22.5,21.65],[22.525,23.48],[22.55,21.3],[22.575,23.23],[22.6,21.95],[22.625,23.78],[22.65,21.6],[22.675,23.43],[22.7,21.95],[22.725,23.28],[22.75,21.6],[22.775,23.63],[22.8,21.95],[22.825,23.78],[22.85,21.6],[22.875,23.53],[22.9,22.25],[22.925,24.08],[22.95,21.9],[22.975,23.73],[23.0,22.25],[23.025,23.58],[23.05,21.9],[23.075,23.93],[23.1,22.25],[23.125,24.08],[23.15,21.9],[23.175,23.83],[23.2,22.55],[23.225,24.38],[23.25,22.2],[23.275,24.03],[23.3,22.55],[23.325,23.88],[23.35,22.2],[23.375,24.23],[23.4,22.55],[23.425,24.38],[23.45,22.2],[23.475,24.13],[23.5,22.85],[23.525,24.68],[23.55,22.5],[23.575,24.33],[23.6,22.85],[23.625,24.18],[23.65,22.5],[23.675,24.53],[23.7,22.85],[23.725,24.68],[23.75,22.5],[23.775,24.43],[23.8,23.15],[23.825,24.98],[23.85,22.8],[23.875,24.63],[23.9,23.15],[23.925,24.48],[23.95,22.8],[23.975,24.83],[24.0,23.15],[24.03,24.98],[24.06,22.81],[24.09,24.74],[24.12,23.47],[24.15,25.3],[24.18,23.13],[24.21,24.96],[24.24,23.49],[24.27,24.82],[24.3,23.15],[24.33,25.18],[24.36,23.51],[24.39,25.34],[24.42,23.17],[24.45,25.1],[24.48,23.83],[24.51,25.66],[24.54,23.49],[24.57,25.32],[24.6,23.85],[24.63,25.18],[24.66,23.51],[24.69,25.54],[24.72,23.87],[24.75,25.7],[24.78,23.53],[24.81,25.46],[24.84,24.19],[24.87,26.02],[24.9,23.85],[24.93,25.68],[24.96,24.21],[24.99,25.54]
];

var FONT = '"Liberation Sans", Arial, sans-serif';

// "Log2 (...)" with a subscript 2, centred on 0,0 (baseline)
function drawLog2(ctx, rest, size) {
	var subSize = Math.round(size * 0.65);
	ctx.font = size + 'px ' + FONT;
	var w1 = ctx.measureText('Log').width;
	var w3 = ctx.measureText(' ' + rest).width;
	ctx.font = subSize + 'px ' + FONT;
	var w2 = ctx.measureText('2').width;
	var x = -(w1 + w2 + w3) / 2;
	ctx.textAlign = 'left';
	ctx.textBaseline = 'alphabetic';
	ctx.font = size + 'px ' + FONT;
	ctx.fillText('Log', x, 0);
	ctx.font = subSize + 'px ' + FONT;
	ctx.fillText('2', x + w1, size * 0.25);
	ctx.font = size + 'px ' + FONT;
	ctx.fillText(' ' + rest, x + w1 + w2, 0);
}

var panelText = {
	id: 'panelText',
	afterDraw: function (chart, args, o) {
		var ctx = chart.ctx, a = chart.chartArea;
		ctx.save();
		// top and right frame
		ctx.strokeStyle = '#333';
		ctx.lineWidth = 1;
		ctx.beginPath();
		ctx.moveTo(a.left, a.top + 0.5);
		ctx.lineTo(a.right + 0.5, a.top + 0.5);
		ctx.lineTo(a.right + 0.5, a.bottom);
		ctx.stroke();

		ctx.fillStyle = '#000';
		ctx.textAlign = 'left';
		ctx.textBaseline = 'alphabetic';
		ctx.font = o.letterSize + 'px ' + FONT;
		ctx.fillText(o.letter, o.letterX, o.letterY);

		ctx.font = 'italic ' + o.rSize + 'px ' + FONT;
		ctx.fillText('r', o.rX, o.rY);
		var wr = ctx.measureText('r').width;
		ctx.font = o.rSize + 'px ' + FONT;
		ctx.fillText(' = ' + o.rValue, o.rX + wr, o.rY);

		ctx.save();
		ctx.translate((a.left + a.right) / 2 + o.xTitleShift, o.xTitleY);
		drawLog2(ctx, o.xTitle, o.titleSize);
		ctx.restore();

		ctx.save();
		ctx.translate(o.yTitleX, o.yTitleCY);
		ctx.rotate(-Math.PI / 2);
		drawLog2(ctx, o.yTitle, o.titleSize);
		ctx.restore();
		ctx.restore();
	}
};

function axis(fitSize, isX) {
	var s = {
		type: 'linear',
		min: tickValues[0],
		max: tickValues[tickValues.length - 1],
		afterBuildTicks: function (scale) {
			scale.ticks = tickValues.map(function (v) { return { value: v }; });
		},
		grid: { drawOnChartArea: false, drawTicks: true, tickLength: 7, color: '#555' },
		border: { display: true, color: '#000', width: 1.5 },
		ticks: { color: '#000', font: { family: FONT, size: 22 }, padding: isX ? 8 : 9, autoSkip: false, maxRotation: 0 }
	};
	if (isX) s.afterFit = function (scale) { scale.height = fitSize; };
	else s.afterFit = function (scale) { scale.width = fitSize; };
	return s;
}

function makeChart(id, points, pad, yWidth, xHeight, text) {
	return new Chart(document.getElementById(id), {
		type: 'scatter',
		data: {
			datasets: [{
				type: 'line',
				data: identityLine.map(function (v) { return { x: v, y: v }; }),
				borderColor: '#000',
				borderWidth: 2,
				borderDash: [10, 6],
				pointRadius: 0,
				fill: false,
				order: 0
			}, {
				data: points.map(function (p) { return { x: p[0], y: p[1] }; }),
				backgroundColor: '#ff0000',
				borderWidth: 0,
				pointRadius: 2.5,
				order: 1
			}]
		},
		options: {
			responsive: false,
			animation: false,
			events: [],
			layout: { padding: pad },
			plugins: { legend: { display: false }, tooltip: { enabled: false }, panelText: text },
			scales: { x: axis(xHeight, true), y: axis(yWidth, false) }
		},
		plugins: [panelText]
	});
}

var chartA = makeChart('chartA', coldPoints.concat(coldRing, coldCore), { left: 0, top: 71, right: 24, bottom: 0 }, 130, 94, {
	letter: 'A', letterX: 10, letterY: 37, letterSize: 33,
	rValue: '0.886', rX: 140, rY: 102, rSize: 26,
	xTitle: '(Intensity WT-Cold Exp. 1)', xTitleY: 579, xTitleShift: -4,
	yTitle: '(Intensity WT-Cold Exp. 2)', yTitleX: 61, yTitleCY: 306,
	titleSize: 27
});

var chartB = makeChart('chartB', flgPoints.concat(flgRing, flgCore), { left: 0, top: 69, right: 16, bottom: 0 }, 140, 96, {
	letter: 'B', letterX: 4, letterY: 44, letterSize: 31,
	rValue: '0.910', rX: 153, rY: 101, rSize: 26,
	xTitle: '(Intensity WT-Flg22 Exp. 1)', xTitleY: 579, xTitleShift: 0,
	yTitle: '(Intensity WT-Flg22 Exp. 2)', yTitleX: 72, yTitleCY: 302,
	titleSize: 27
});
</script>
</body>
</html>
